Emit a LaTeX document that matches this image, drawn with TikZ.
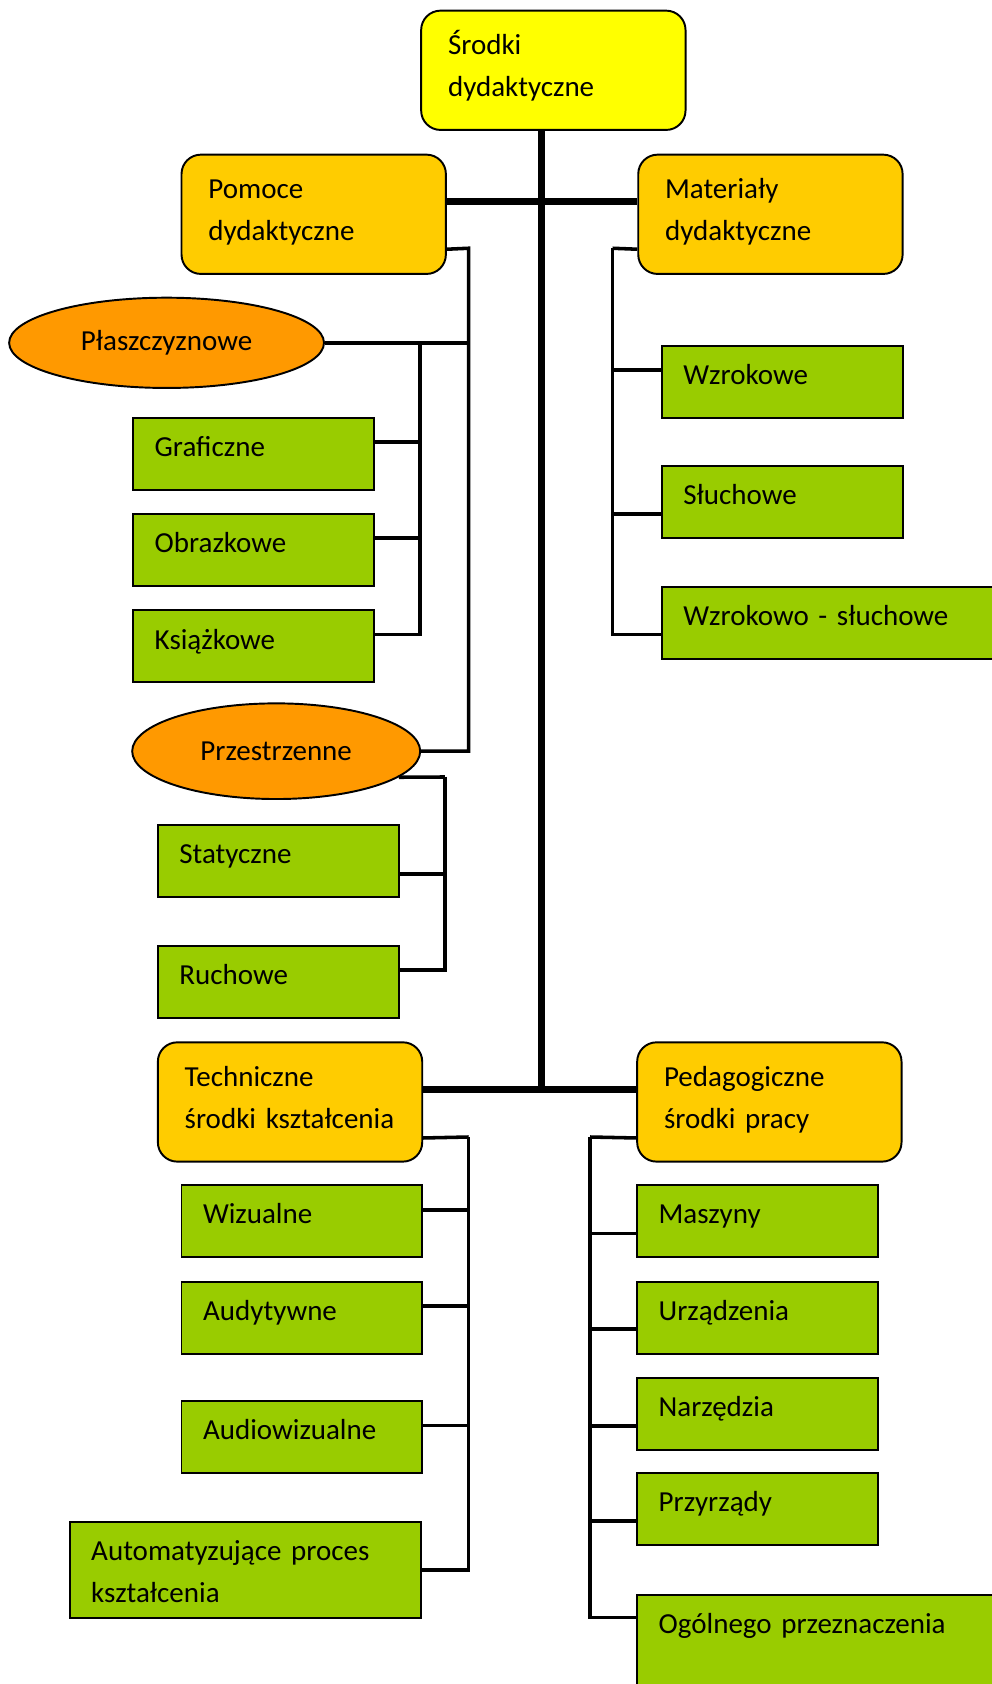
\documentclass[tikz,border=0pt]{standalone}
\usepackage{fontspec}
\setmainfont{Carlito}
\usetikzlibrary{shapes.geometric}
\definecolor{topyellow}{HTML}{FFFF00}
\definecolor{groupgold}{HTML}{FFCC00}
\definecolor{kindorange}{HTML}{FF9900}
\definecolor{leafgreen}{HTML}{99CC00}

\begin{document}
\begin{tikzpicture}[x=1pt,y=-1pt,font=\fontsize{27}{39}\selectfont,
	group/.style={draw,line width=1.8pt,rounded corners=18pt,fill=groupgold,anchor=north west,inner xsep=25pt,inner ysep=0pt,align=left,text width=196pt,text height=41pt,text depth=70pt},
	leaf/.style={draw,line width=1.8pt,fill=leafgreen,anchor=north west,inner xsep=20pt,inner ysep=0pt,align=left,text width=184pt,text height=36pt,text depth=31pt},
	kind/.style={draw,line width=1.8pt,ellipse,fill=kindorange,inner sep=0pt},
	link/.style={line width=3.3pt},
	spine/.style={line width=6.5pt}]
	\useasboundingbox (0,0) rectangle (923,1567);
	% main groups
	\node[group,fill=topyellow] (top) at (391,9) {Środki\\dydaktyczne};
	\node[group] (pom) at (168,143) {Pomoce\\dydaktyczne};
	\node[group] (mat) at (593,143) {Materiały\\dydaktyczne};
	\node[group] (tech) at (146,969) {Techniczne\\środki kształcenia};
	\node[group] (ped) at (592,969) {Pedagogiczne\\środki pracy};
	% pomoce dydaktyczne
	\node[kind,minimum width=293pt,minimum height=84pt] (plasz) at (155,319) {Płaszczyznowe};
	\node[leaf] (graf) at (123,388) {Graficzne};
	\node[leaf] (obr) at (123,477) {Obrazkowe};
	\node[leaf] (ksia) at (123,567) {Książkowe};
	\node[kind,minimum width=268pt,minimum height=89pt] (prz) at (257,699) {Przestrzenne};
	\node[leaf] (stat) at (146,767) {Statyczne};
	\node[leaf] (ruch) at (146,879) {Ruchowe};
	% materialy dydaktyczne
	\node[leaf] (wzr) at (615,321) {Wzrokowe};
	\node[leaf] (sluch) at (615,433) {Słuchowe};
	\node[leaf,text width=300pt] (wzrs) at (615,545) {Wzrokowo - słuchowe};
	% techniczne srodki
	\node[leaf] (wiz) at (168,1102) {Wizualne};
	\node[leaf] (aud) at (168,1192) {Audytywne};
	\node[leaf] (audw) at (168,1303) {Audiowizualne};
	\node[leaf,text width=287pt,text depth=54pt] (auto) at (64,1415) {Automatyzujące proces\\kształcenia};
	% pedagogiczne srodki
	\node[leaf] (masz) at (592,1102) {Maszyny};
	\node[leaf] (urz) at (592,1192) {Urządzenia};
	\node[leaf] (narz) at (592,1281) {Narzędzia};
	\node[leaf] (przy) at (592,1370) {Przyrządy};
	\node[leaf,text width=320pt,text depth=74pt] (ogol) at (592,1483) {Ogólnego przeznaczenia};

	% spine
	\coordinate (trunk) at (503.5,1013);
	\draw[spine] (top.south -| trunk) -- (trunk);
	\draw[spine] ([yshift=11.5pt]pom.east) -- ([yshift=11.5pt]mat.west);
	\draw[spine] ([yshift=11.5pt]tech.east) -- ([yshift=11.5pt]ped.west);

	% buses
	\coordinate (pbus) at (436,231);
	\coordinate (sbus) at (391,319);
	\coordinate (zbus) at (414,723);
	\coordinate (mbus) at (570,231);
	\coordinate (tbus) at (436,1058);
	\coordinate (dbus) at (549,1058);
	\draw[link] ([yshift=-32.5pt]pom.east) -- (pbus) |- (prz.east);
	\draw[link] (pbus) |- (plasz.east);
	\foreach \n in {graf,obr,ksia}
		\draw[link] (sbus) |- ([yshift=11pt]\n.east);
	\draw[link] (prz.-12) -- (zbus);
	\foreach \n/\d in {stat/-12,ruch/11}
		\draw[link] (zbus) |- ([yshift=\d pt]\n.east);
	\draw[link] ([yshift=-32.5pt]mat.west) -- (mbus);
	\foreach \n/\d in {wzr/11,sluch/-11,wzrs/-11}
		\draw[link] (mbus) |- ([yshift=\d pt]\n.west);
	\draw[link] ([yshift=-33.5pt]tech.east) -- (tbus);
	\foreach \n/\d in {wiz/10.5,aud/11,audw/11,auto/0}
		\draw[link] (tbus) |- ([yshift=\d pt]\n.east);
	\draw[link] ([yshift=-33.5pt]ped.west) -- (dbus);
	\foreach \n/\d in {masz/-11.5,urz/-10.5,narz/-11.5,przy/-11}
		\draw[link] (dbus) |- ([yshift=\d pt]\n.west);
	\draw[link] (dbus) |- ([yshift=-22pt]ogol.north west);
\end{tikzpicture}
\end{document}
